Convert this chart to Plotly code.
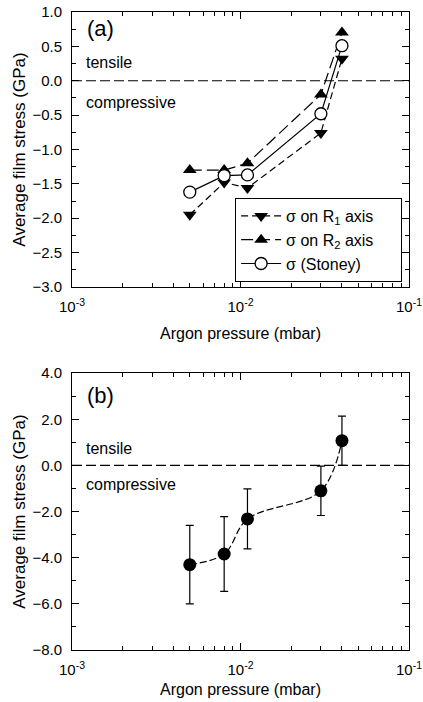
import plotly.graph_objects as go

# Data
pressure = [0.005, 0.008, 0.011, 0.03, 0.04]
stress_r1 = [-1.95, -1.48, -1.56, -0.76, 0.32]
stress_r2 = [-1.30, -1.30, -1.20, -0.20, 0.70]
stress_stoney = [-1.62, -1.38, -1.37, -0.48, 0.51]

stress_b = [-4.3, -3.84, -2.32, -1.10, 1.07]
err_b = [1.7, 1.62, 1.3, 1.07, 1.07]

x_tickvals = [0.001, 0.01, 0.1]
x_ticktext = ["10<sup>-3</sup>", "10<sup>-2</sup>", "10<sup>-1</sup>"]
x_minor_vals = [m * d for d in (0.001, 0.01) for m in range(2, 10)]

FONT = "Arial, Liberation Sans, sans-serif"
PAD = "\u00a0" * 5

fig = go.Figure()

fig.add_trace(go.Scatter(
    x=pressure, y=stress_r1, mode="lines+markers", name="σ on R<sub>1</sub> axis" + PAD,
    line=dict(color="black", width=1.2, dash="7px,4px"),
    marker=dict(symbol="triangle-down", size=12, color="black"),
    xaxis="x", yaxis="y"))
fig.add_trace(go.Scatter(
    x=pressure, y=stress_r2, mode="lines+markers", name="σ on R<sub>2</sub> axis" + PAD,
    line=dict(color="black", width=1.2, dash="12px,5px"),
    marker=dict(symbol="triangle-up", size=12, color="black"),
    xaxis="x", yaxis="y"))
fig.add_trace(go.Scatter(
    x=pressure, y=stress_stoney, mode="lines+markers", name="σ (Stoney)",
    line=dict(color="black", width=1.2),
    marker=dict(symbol="circle", size=12, color="white", line=dict(color="black", width=1.3)),
    xaxis="x", yaxis="y"))

fig.add_trace(go.Scatter(
    x=pressure, y=stress_b, mode="lines+markers", showlegend=False,
    line=dict(color="black", width=1.2, dash="7px,3px", shape="spline", smoothing=1.0),
    marker=dict(symbol="circle", size=13, color="black"),
    error_y=dict(type="data", array=err_b, visible=True, color="black", thickness=1.2, width=4),
    xaxis="x2", yaxis="y2"))

def xaxis_cfg(label_gap, title_gap):
    return dict(
        type="log", range=[-3, -1], tickvals=x_tickvals, ticktext=x_ticktext,
        ticks="inside", ticklen=7, tickwidth=1, tickcolor="black",
        minor=dict(tickvals=x_minor_vals, ticks="inside", ticklen=4, tickcolor="black", showgrid=False),
        showline=True, mirror="ticks", linecolor="black", linewidth=1,
        showgrid=False, zeroline=False, automargin=False,
        ticklabelstandoff=label_gap, ticklabeloverflow="allow",
        tickfont=dict(size=15, family=FONT, color="black"),
        title=dict(text="Argon pressure (mbar)", font=dict(size=16, family=FONT, color="black"),
                   standoff=title_gap),
    )

common_y = dict(
    ticks="inside", ticklen=7, tickwidth=1, tickcolor="black",
    showline=True, mirror="ticks", linecolor="black", linewidth=1,
    showgrid=False, zeroline=False, tickformat=".1f", automargin=False,
    ticklabelstandoff=6, ticklabeloverflow="allow",
    tickfont=dict(size=15, family=FONT, color="black"),
    title=dict(text="Average film stress (GPa)", font=dict(size=17, family=FONT, color="black"), standoff=2),
)

dom_a = [0.569, 1.0]
dom_b = [0.0, 0.434]

fig.update_layout(
    width=423, height=702,
    margin=dict(l=72, r=14, t=12, b=52),
    paper_bgcolor="white", plot_bgcolor="white",
    font=dict(family=FONT, color="black"),
    xaxis=dict(**xaxis_cfg(6, 13), domain=[0, 1], anchor="y"),
    yaxis=dict(**common_y, domain=dom_a, anchor="x", range=[-3, 1], dtick=0.5,
               minor=dict(dtick=0.25, ticks="inside", ticklen=4, tickcolor="black")),
    xaxis2=dict(**xaxis_cfg(6, 6), domain=[0, 1], anchor="y2"),
    yaxis2=dict(**common_y, domain=dom_b, anchor="x2", range=[-8, 4], dtick=2,
                minor=dict(dtick=1, ticks="inside", ticklen=4, tickcolor="black")),
    legend=dict(x=0.484, xanchor="left", y=0.7085, yanchor="top",
                bordercolor="black", borderwidth=1, bgcolor="white",
                font=dict(size=16, family=FONT, color="black"),
                tracegroupgap=0, itemwidth=40),
    showlegend=True,
)

# zero dashed lines
for xr, yr in (("x", "y"), ("x2", "y2")):
    fig.add_shape(type="line", xref=xr + " domain", yref=yr, x0=0, x1=1, y0=0, y1=0,
                  line=dict(color="black", width=1.2, dash="10px,4px"))

def ann(text, xr, yr, x, y, size):
    fig.add_annotation(text=text, xref=xr + " domain", yref=yr, x=x, y=y,
                       xanchor="left", yanchor="middle", showarrow=False,
                       font=dict(size=size, family=FONT, color="black"))

ann("(a)", "x", "y", 0.04, 0.76, 22)
ann("tensile", "x", "y", 0.036, 0.27, 16)
ann("compressive", "x", "y", 0.036, -0.32, 16)
ann("(b)", "x2", "y2", 0.04, 3.05, 22)
ann("tensile", "x2", "y2", 0.036, 0.75, 16)
ann("compressive", "x2", "y2", 0.036, -0.81, 16)

fig.write_html("out.html", config={"displayModeBar": False},
               post_script="document.body.style.margin='0px';")
